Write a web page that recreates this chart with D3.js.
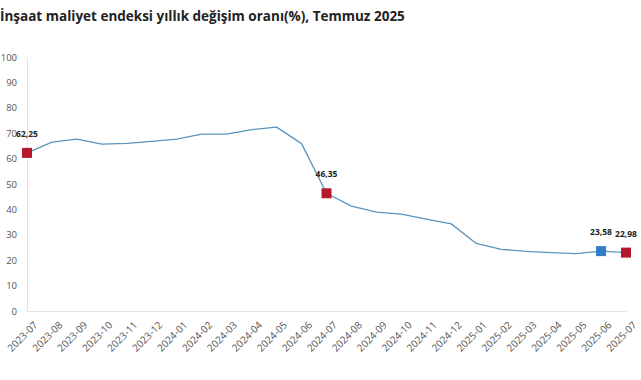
<!DOCTYPE html>
<html>
<head>
<meta charset="utf-8">
<script src="https://cdn.jsdelivr.net/npm/d3@7"></script>
<style>
body { margin: 0; background: #fff; }
svg { display: block; font-family: "Open Sans", "Noto Sans", sans-serif; }
</style>
</head>
<body>
<div id="chart"></div>
<script>
var months = ["2023-07", "2023-08", "2023-09", "2023-10", "2023-11", "2023-12",
    "2024-01", "2024-02", "2024-03", "2024-04", "2024-05", "2024-06",
    "2024-07", "2024-08", "2024-09", "2024-10", "2024-11", "2024-12",
    "2025-01", "2025-02", "2025-03", "2025-04", "2025-05", "2025-06", "2025-07"];
var values = [62.25, 66.5, 67.7, 65.7, 66.0, 66.8,
    67.7, 69.6, 69.6, 71.4, 72.4, 65.9,
    46.35, 41.3, 38.9, 38.1, 36.2, 34.3,
    26.6, 24.3, 23.5, 23.0, 22.6, 23.58, 22.98];
// highlighted points: index, colour
var marked = [0, 12, 23, 24];
var marked_color = ["#b5182b", "#b5182b", "#2f7fc6", "#b5182b"];
var y_ticks = [0, 10, 20, 30, 40, 50, 60, 70, 80, 90, 100];
var title_text = "İnşaat maliyet endeksi yıllık değişim oranı(%), Temmuz 2025";

var width = 641;
var height = 380;
var margin = {top: 57, right: 15, bottom: 69, left: 27};

var svg = d3.select("#chart")
    .append("svg")
    .attr("width", width)
    .attr("height", height);

svg.append("text")
    .attr("x", 0)
    .attr("y", 21)
    .attr("font-size", 13.5)
    .attr("font-weight", "bold")
    .attr("fill", "#222")
    .text(title_text);

var x = d3.scalePoint()
    .domain(months)
    .range([margin.left, width - margin.right]);
var y = d3.scaleLinear()
    .domain([0, 100])
    .range([height - margin.bottom, margin.top]);

// y axis
var y_axis = svg.append("g")
    .attr("transform", "translate(" + margin.left + ",0)")
    .call(d3.axisLeft(y).tickValues(y_ticks).tickSize(0).tickPadding(10));
y_axis.select(".domain").attr("stroke", "#e3e3e3");
y_axis.selectAll("text")
    .attr("font-size", 9.5)
    .attr("fill", "#555")
    .attr("font-family", "Open Sans, sans-serif");

// x axis
var x_axis = svg.append("g")
    .attr("transform", "translate(0," + (height - margin.bottom) + ")")
    .call(d3.axisBottom(x).tickSize(0).tickPadding(6));
x_axis.select(".domain").attr("stroke", "#e3e3e3");
x_axis.selectAll("text")
    .attr("font-size", 10)
    .attr("fill", "#555")
    .attr("font-family", "Open Sans, sans-serif")
    .attr("text-anchor", "end")
    .attr("dy", "0.35em")
    .attr("transform", "translate(4,8) rotate(-45)");

var line = d3.line()
    .x(function(d, i) { return x(months[i]); })
    .y(function(d) { return y(d); });

svg.append("path")
    .datum(values)
    .attr("fill", "none")
    .attr("stroke", "#5b95bd")
    .attr("stroke-width", 1.3)
    .attr("stroke-linejoin", "round")
    .attr("d", line);

var msize = 10;
svg.selectAll("rect.mark")
    .data(marked)
    .enter()
    .append("rect")
    .attr("class", "mark")
    .attr("x", function(d) { return x(months[d]) - msize / 2; })
    .attr("y", function(d) { return y(values[d]) - msize / 2; })
    .attr("width", msize)
    .attr("height", msize)
    .attr("fill", function(d, i) { return marked_color[i]; });

svg.selectAll("text.lbl")
    .data(marked)
    .enter()
    .append("text")
    .attr("class", "lbl")
    .attr("x", function(d) { return x(months[d]); })
    .attr("y", function(d) { return y(values[d]) - 16; })
    .attr("text-anchor", "middle")
    .attr("font-size", 8.5)
    .attr("font-weight", "bold")
    .attr("fill", "#222")
    .text(function(d) { return d3.format(".2f")(values[d]).replace(".", ","); });
</script>
</body>
</html>
